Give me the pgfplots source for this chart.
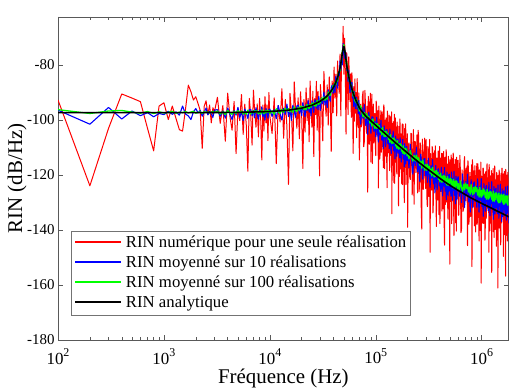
\documentclass[border=0pt]{standalone}
\usepackage{fontspec}
\setmainfont{Liberation Serif}
\usepackage{pgfplots}
\pgfplotsset{compat=1.18}
\usepackage{pgfplotstable}

\definecolor{vert}{RGB}{0,255,0}

% single realisation: f (Hz), RIN (dB/Hz)
\pgfplotstableread{
f r
100 -92.7
200 -123.9
300 -103.0
400 -90.5
500 -92.0
600 -93.3
700 -103.0
800 -111.2
900 -94.9
1000 -93.7
1100 -99.8
1200 -94.9
1300 -99.4
1400 -103.5
1500 -104.0
1600 -96.0
1700 -87.3
1800 -89.7
1900 -92.7
2000 -91.5
2100 -94.0
2200 -96.5
2300 -110.3
2400 -95.0
2500 -93.0
2600 -98.0
2700 -94.5
2800 -101.0
2900 -95.5
3000 -97.0
3200 -91.7
3400 -101.2
3600 -94.7
3800 -107.7
4000 -90.2
4200 -98.7
4400 -103.7
4600 -93.2
4800 -112.2
5000 -95.7
5200 -100.2
5400 -90.7
5600 -105.2
5800 -94.2
6000 -102.1
6200 -118.6
6400 -92.1
6600 -98.1
6800 -109.1
7000 -89.1
7200 -97.1
7400 -102.6
7600 -94.1
7800 -106.1
8000 -92.1
8200 -99.5
8400 -114.5
8600 -94.5
8800 -104.0
9000 -91.5
9200 -101.0
9400 -94.5
9600 -107.5
9800 -90.0
10000 -98.5
10500 -104.9
11000 -91.9
11500 -115.8
12000 -94.7
12500 -100.7
13000 -88.6
13500 -106.6
14000 -92.5
14500 -102.5
15000 -123.4
15500 -90.3
16000 -97.3
16500 -111.2
17000 -86.1
17500 -96.1
18000 -103.0
18500 -91.9
19000 -106.8
19500 -89.7
20000 -98.7
20500 -117.6
21000 -92.5
21500 -104.4
22000 -88.3
22500 -100.2
23000 -92.1
23500 -107.9
24000 -85.8
24500 -96.7
25000 -102.6
25500 -89.5
26000 -113.3
26500 -92.2
27000 -98.0
27500 -85.9
28000 -103.7
28500 -89.6
29000 -99.4
29500 -120.3
30000 -87.1
30800 -93.9
31600 -107.6
32400 -82.3
33200 -92.0
34000 -98.6
34800 -87.2
35600 -101.8
36400 -84.3
37200 -92.9
38000 -111.4
38800 -85.8
39600 -97.3
40400 -80.7
41200 -92.0
42000 -83.3
42800 -98.5
43600 -78.5
44400 -85.6
45200 -90.3
46000 -76.0
46800 -98.5
47600 -75.5
48400 -79.6
49200 -65.9
50000 -83.3
50800 -70.2
51600 -82.2
52400 -105.1
53200 -75.5
54000 -82.6
54800 -98.0
55600 -77.0
56400 -85.3
57200 -93.3
58000 -83.2
58800 -99.0
59600 -82.8
60400 -92.5
61200 -112.1
62000 -87.8
62800 -100.4
63600 -85.0
64400 -97.5
65200 -90.0
66000 -106.4
66800 -84.9
67600 -96.3
68400 -102.7
69200 -90.1
70000 -114.5
72000 -94.2
73000 -102.5
74000 -100.8
75000 -91.1
76000 -89.4
77000 -109.7
78000 -107.9
79000 -89.2
80000 -94.4
81000 -102.6
82000 -104.8
83000 -95.0
84000 -126.2
85000 -91.4
86000 -93.6
87000 -108.8
88000 -101.0
89000 -90.2
90000 -115.3
91000 -95.5
92000 -90.6
93000 -115.8
94000 -101.0
95000 -94.2
96000 -108.3
97000 -98.5
98000 -97.6
99000 -108.8
100000 -112.9
101000 -93.1
102000 -96.2
103000 -105.4
104000 -105.5
105000 -96.6
106000 -124.7
107000 -94.9
108000 -100.0
109000 -114.2
110000 -112.3
111000 -99.5
112000 -96.6
113000 -111.7
114000 -108.8
115000 -97.0
116000 -101.1
117000 -109.2
118000 -117.3
119000 -94.5
120000 -95.6
121000 -117.7
122000 -106.8
123000 -100.0
124000 -113.1
125000 -99.2
126000 -100.3
127000 -115.5
128000 -124.6
129000 -96.7
130000 -103.8
131000 -111.9
132000 -110.0
133000 -102.1
134000 -98.2
135000 -118.4
136000 -116.5
137000 -98.6
138000 -102.7
139000 -110.8
140000 -112.9
141000 -97.0
142000 -134.1
143000 -102.2
144000 -101.3
145000 -116.4
146000 -108.5
147000 -100.6
148000 -122.7
149000 -104.8
150000 -97.9
151000 -123.0
152000 -108.1
153000 -99.2
154000 -115.3
155000 -102.4
156000 -104.4
157000 -115.5
158000 -119.6
159000 -100.7
160000 -102.8
161000 -111.9
162000 -112.0
163000 -105.1
164000 -131.2
165000 -102.3
166000 -106.4
167000 -120.5
168000 -118.5
169000 -99.6
170000 -102.7
171000 -117.8
172000 -114.9
173000 -105.0
174000 -107.0
175000 -115.1
176000 -123.2
177000 -104.3
178000 -101.4
179000 -123.5
180000 -112.5
181000 -101.6
182000 -118.7
183000 -106.8
184000 -105.8
185000 -120.9
186000 -130.0
187000 -103.1
188000 -109.1
189000 -117.2
190000 -115.3
191000 -101.4
192000 -103.4
193000 -123.5
194000 -121.6
195000 -106.7
196000 -107.7
197000 -115.8
198000 -117.9
199000 -105.0
200000 -139.0
203000 -109.2
206000 -108.3
209000 -120.5
212000 -121.6
215000 -104.8
218000 -105.0
221000 -127.2
224000 -116.3
227000 -103.5
230000 -130.6
233000 -107.8
236000 -107.9
239000 -119.1
242000 -115.2
245000 -105.4
248000 -126.5
251000 -103.7
254000 -105.8
257000 -126.0
260000 -121.1
263000 -108.3
266000 -113.4
269000 -132.6
272000 -139.7
275000 -106.9
278000 -111.0
281000 -125.2
284000 -120.3
287000 -111.5
290000 -106.6
293000 -120.8
296000 -124.9
299000 -107.1
302000 -116.3
305000 -130.4
308000 -131.5
311000 -109.6
314000 -110.7
317000 -127.8
320000 -119.9
323000 -107.0
326000 -148.1
329000 -112.2
332000 -115.3
335000 -124.4
338000 -125.5
341000 -109.6
344000 -110.7
347000 -133.8
350000 -129.9
353000 -112.0
356000 -119.1
359000 -111.2
362000 -124.3
365000 -109.4
368000 -113.5
371000 -131.6
374000 -138.7
377000 -113.8
380000 -115.9
383000 -128.0
386000 -129.1
389000 -111.2
392000 -112.3
395000 -134.4
398000 -123.5
401000 -109.6
404000 -137.7
407000 -113.8
410000 -114.8
413000 -125.9
416000 -122.0
419000 -112.1
422000 -133.1
425000 -116.2
428000 -112.2
431000 -132.3
434000 -127.3
437000 -111.4
440000 -119.4
443000 -138.5
446000 -145.5
449000 -113.6
452000 -116.6
455000 -130.7
458000 -125.7
461000 -110.8
464000 -111.8
467000 -125.9
470000 -129.9
473000 -116.0
476000 -121.0
479000 -135.1
482000 -136.1
485000 -113.2
488000 -115.2
491000 -132.3
494000 -124.3
497000 -115.4
500000 -152.4
503000 -114.5
506000 -119.5
509000 -128.6
512000 -129.6
515000 -112.7
518000 -114.7
521000 -137.7
524000 -133.7
527000 -116.8
530000 -122.8
533000 -113.9
536000 -127.9
539000 -112.0
542000 -117.0
545000 -135.0
548000 -142.0
551000 -116.1
554000 -119.1
557000 -131.2
560000 -132.2
563000 -114.3
566000 -115.3
569000 -137.4
572000 -126.4
575000 -118.4
578000 -140.4
581000 -113.5
584000 -117.5
587000 -128.6
590000 -124.6
595000 -115.6
600000 -114.6
607500 -134.7
615000 -126.7
622500 -112.8
630000 -118.8
637500 -140.9
645000 -140.0
652500 -118.1
660000 -122.1
667500 -133.2
675000 -132.2
682500 -115.3
690000 -113.3
697500 -128.4
705000 -129.4
712500 -117.5
720000 -125.6
727500 -116.7
735000 -145.7
742500 -114.8
750000 -117.8
757500 -137.9
765000 -134.9
772500 -119.0
780000 -122.0
787500 -135.1
795000 -131.2
802500 -116.3
810000 -153.3
817500 -114.4
825000 -117.4
832500 -131.4
840000 -127.4
847500 -118.5
855000 -138.5
862500 -116.6
870000 -121.6
877500 -140.7
885000 -129.7
892500 -120.8
900000 -115.8
907500 -137.9
915000 -134.9
922500 -115.9
930000 -124.9
937500 -134.0
945000 -144.0
952500 -118.1
960000 -120.1
967500 -140.2
975000 -133.2
982500 -115.3
990000 -159.3
997500 -120.4
1005000 -121.4
1012500 -131.5
1020000 -137.5
1027500 -117.5
1035000 -117.5
1042500 -137.6
1050000 -129.6
1057500 -119.6
1065000 -121.6
1072500 -143.7
1080000 -142.7
1087500 -118.8
1095000 -124.8
1102500 -135.8
1110000 -134.8
1117500 -116.9
1125000 -115.9
1132500 -131.0
1140000 -132.0
1147500 -121.0
1155000 -128.0
1162500 -118.1
1170000 -148.1
1177500 -116.2
1185000 -120.2
1192500 -140.3
1200000 -137.3
1207500 -120.3
1215000 -124.3
1222500 -137.4
1230000 -133.4
1237500 -118.4
1245000 -155.4
1252500 -122.5
1260000 -119.5
1267500 -133.5
1275000 -129.5
1282500 -117.6
1290000 -140.6
1297500 -119.6
1305000 -123.6
1312500 -142.7
1320000 -131.7
1327500 -116.7
1335000 -117.7
1342500 -139.8
1350000 -136.8
1357500 -121.8
1365000 -126.8
1372500 -135.9
1380000 -145.9
1387500 -119.0
1395000 -122.0
1402500 -142.0
1410000 -135.0
1417500 -121.1
1425000 -161.1
1432500 -120.1
1440000 -123.1
1447500 -133.2
1455000 -139.2
1462500 -118.2
1470000 -119.2
1477500 -139.3
1485000 -131.3
1492500 -122.3
1500000 -123.3
1507500 -145.4
1515000 -144.4
1522500 -119.4
1530000 -126.4
1537500 -137.4
1545000 -136.4
1552500 -117.5
1560000 -117.5
1567500 -132.5
1575000 -133.5
1582500 -121.6
1590000 -129.6
1597500 -119.6
1605000 -149.6
1612500 -123.7
1620000 -121.7
1627500 -141.7
1635000 -138.7
1642500 -118.7
1650000 -125.7
1657500 -138.8
1665000 -134.8
1672500 -120.8
1680000 -156.8
1687500 -117.9
1695000 -120.9
1702500 -134.9
1710000 -130.9
1717500 -122.9
1725000 -141.9
1732500 -120.0
1740000 -125.0
1747500 -144.0
1755000 -133.0
1762500 -122.0
1770000 -119.0
1777500 -141.1
1785000 -138.1
1792500 -121.1
1800000 -128.1
}\rinone

% averaged RIN: f (Hz), mean of 10 (b), mean of 100 (g)
\pgfplotstableread{
f b g
100 -96.4 -96.2
200 -101.5 -97.6
300 -95.4 -96.7
400 -99.6 -96.5
500 -96.7 -97.1
600 -98.4 -97.5
700 -97.3 -96.9
800 -98.8 -97.6
900 -97.6 -97.0
1000 -98.0 -97.4
1100 -96.8 -97.2
1200 -97.9 -96.8
1300 -97.0 -97.5
1400 -98.2 -97.1
1500 -94.9 -97.3
1600 -97.8 -96.9
1700 -98.5 -97.4
1800 -99.8 -97.1
1900 -97.0 -96.8
2000 -95.8 -97.5
2100 -97.4 -97.2
2200 -96.5 -97.0
2300 -98.6 -97.6
2400 -97.2 -96.9
2500 -95.6 -97.3
2600 -98.1 -97.0
2700 -96.9 -97.5
2800 -97.8 -97.1
2900 -99.0 -96.8
3000 -96.4 -97.3
3200 -96.2 -96.7
3400 -98.6 -97.8
3600 -96.7 -97.0
3800 -99.3 -98.0
4000 -95.6 -96.5
4200 -97.9 -97.4
4400 -99.8 -97.9
4600 -96.5 -96.8
4800 -98.2 -97.6
5000 -95.4 -96.6
5200 -99.0 -97.3
5400 -97.0 -96.7
5600 -100.2 -97.8
5800 -96.0 -97.0
6000 -97.5 -97.9
6200 -99.4 -96.4
6400 -96.2 -97.3
6600 -96.1 -97.8
6800 -98.5 -96.7
7000 -96.6 -97.5
7200 -99.2 -96.5
7400 -95.5 -97.2
7600 -97.8 -96.6
7800 -99.7 -97.7
8000 -96.4 -96.9
8200 -98.0 -97.8
8400 -95.2 -96.3
8600 -98.8 -97.2
8800 -96.8 -97.7
9000 -100.0 -96.6
9200 -95.8 -97.4
9400 -97.4 -96.4
9600 -99.3 -97.1
9800 -96.1 -96.5
10000 -96.0 -97.6
10500 -98.7 -96.6
11000 -96.2 -97.9
11500 -99.5 -95.9
12000 -94.7 -97.0
12500 -97.6 -97.6
13000 -100.0 -96.1
13500 -95.7 -97.2
14000 -97.9 -95.7
14500 -94.2 -96.7
15000 -98.7 -95.8
15500 -96.1 -97.0
16000 -100.1 -96.0
16500 -94.6 -97.2
17000 -96.6 -95.2
17500 -99.0 -96.4
18000 -94.9 -96.9
18500 -94.5 -95.4
19000 -97.6 -96.4
19500 -95.0 -94.9
20000 -98.4 -95.9
20500 -93.6 -95.0
21000 -96.4 -96.2
21500 -98.8 -95.1
22000 -94.4 -96.3
22500 -96.6 -94.3
23000 -92.8 -95.4
23500 -97.2 -95.8
24000 -94.6 -94.3
24500 -98.5 -95.3
25000 -93.0 -93.8
25500 -95.0 -94.7
26000 -97.2 -93.7
26500 -93.1 -94.9
27000 -92.6 -93.7
27500 -95.7 -94.9
28000 -93.0 -92.8
28500 -96.3 -93.9
29000 -91.4 -94.3
29500 -94.2 -92.8
30000 -96.5 -93.7
30800 -91.9 -92.0
31600 -94.1 -92.8
32400 -89.8 -91.6
33200 -94.5 -92.8
34000 -91.3 -91.3
34800 -95.5 -92.4
35600 -89.0 -89.8
36400 -90.8 -90.7
37200 -93.2 -91.0
38000 -88.1 -88.9
38800 -87.3 -89.5
39600 -90.3 -87.4
40400 -86.9 -87.9
41200 -90.0 -86.3
42000 -84.0 -87.1
42800 -86.5 -85.2
43600 -88.4 -85.8
44400 -82.6 -82.6
45200 -83.8 -82.7
46000 -78.5 -82.1
46800 -82.0 -79.0
47600 -77.2 -78.2
48400 -79.9 -74.7
49200 -72.1 -74.1
50000 -73.8 -72.6
50800 -77.5 -75.0
51600 -74.9 -75.9
52400 -76.6 -79.3
53200 -82.0 -79.0
54000 -80.8 -82.0
54800 -86.0 -84.1
55600 -81.9 -83.7
56400 -86.3 -86.0
57200 -90.1 -85.4
58000 -86.2 -87.4
58800 -89.5 -87.3
59600 -86.3 -89.6
60400 -92.0 -89.2
61200 -89.8 -91.3
62000 -95.1 -89.8
62800 -89.6 -91.8
63600 -92.5 -93.1
64400 -95.8 -92.0
65200 -91.7 -93.7
66000 -91.9 -92.5
66800 -95.9 -94.1
67600 -93.5 -93.6
68400 -97.7 -95.5
69200 -92.8 -94.8
70000 -96.5 -96.7
72000 -101.5 -94.8
74000 -95.4 -97.3
76000 -99.5 -98.8
78000 -94.4 -97.2
80000 -101.9 -99.3
82000 -98.4 -97.6
84000 -105.2 -99.4
86000 -97.1 -98.6
88000 -100.7 -101.1
90000 -104.9 -99.9
92000 -98.8 -102.2
94000 -98.9 -99.6
96000 -104.1 -101.8
98000 -100.5 -103.0
100000 -106.1 -101.2
102000 -99.0 -103.1
104000 -103.9 -101.3
106000 -108.0 -102.9
108000 -101.6 -102.0
110000 -105.4 -104.4
112000 -100.1 -103.2
114000 -107.3 -105.4
116000 -103.7 -102.7
118000 -110.3 -104.8
120000 -102.1 -106.0
122000 -105.5 -104.1
124000 -109.7 -106.0
126000 -103.5 -104.1
128000 -103.5 -105.8
130000 -108.6 -104.8
132000 -104.9 -107.1
134000 -110.4 -105.8
136000 -103.3 -108.1
138000 -108.1 -105.3
140000 -112.2 -107.4
142000 -105.7 -108.5
144000 -109.4 -106.6
146000 -104.0 -108.4
148000 -111.2 -106.5
150000 -107.5 -108.1
152000 -114.1 -107.1
154000 -105.8 -109.4
156000 -109.1 -108.0
158000 -113.2 -110.2
160000 -107.0 -107.4
162000 -106.9 -109.5
164000 -112.0 -110.6
166000 -108.3 -108.7
168000 -113.7 -110.4
170000 -106.5 -108.5
172000 -111.3 -110.1
174000 -115.3 -109.0
176000 -108.8 -111.3
178000 -112.5 -110.0
180000 -107.0 -112.1
182000 -114.2 -109.3
184000 -110.4 -111.3
186000 -117.0 -112.4
188000 -108.6 -110.4
190000 -112.0 -112.2
192000 -116.0 -110.2
194000 -109.8 -111.8
196000 -109.6 -110.7
198000 -114.7 -113.0
200000 -110.9 -111.6
206000 -117.4 -114.1
212000 -108.8 -111.1
218000 -114.7 -113.5
224000 -119.7 -114.9
230000 -111.9 -112.8
236000 -116.5 -114.9
242000 -109.9 -112.8
248000 -118.8 -114.8
254000 -114.4 -113.7
260000 -122.3 -116.4
266000 -112.4 -114.9
272000 -116.6 -117.5
278000 -121.5 -114.5
284000 -114.2 -116.8
290000 -114.0 -118.2
296000 -120.3 -116.1
302000 -116.0 -118.3
308000 -122.6 -116.1
314000 -113.9 -118.0
320000 -119.6 -116.8
326000 -124.5 -119.4
332000 -116.6 -117.8
338000 -121.1 -120.3
344000 -114.4 -117.2
350000 -123.2 -119.4
356000 -118.7 -120.7
362000 -126.5 -118.5
368000 -116.5 -120.5
374000 -120.6 -118.3
380000 -125.4 -120.2
386000 -118.0 -119.0
392000 -117.7 -121.6
398000 -123.9 -120.0
404000 -119.4 -122.5
410000 -125.9 -119.3
416000 -117.2 -121.5
422000 -122.8 -122.7
428000 -127.6 -120.4
434000 -119.6 -122.3
440000 -124.0 -120.0
446000 -117.2 -121.8
452000 -125.9 -120.5
458000 -121.3 -123.0
464000 -129.0 -121.3
470000 -118.9 -123.7
476000 -122.9 -120.5
482000 -127.6 -122.6
488000 -120.1 -123.8
494000 -119.7 -121.5
500000 -125.8 -123.4
506000 -121.2 -121.1
512000 -127.7 -122.9
518000 -118.9 -121.6
524000 -124.4 -124.0
530000 -129.2 -122.3
536000 -121.2 -124.7
542000 -125.6 -121.5
548000 -118.7 -123.5
554000 -127.4 -124.7
560000 -122.8 -122.4
566000 -130.5 -124.3
572000 -120.4 -122.0
578000 -124.3 -123.7
584000 -129.0 -122.4
590000 -121.5 -124.9
600000 -120.6 -123.1
615000 -127.7 -125.7
630000 -122.3 -122.1
645000 -130.0 -124.6
660000 -119.6 -125.9
675000 -126.2 -123.3
690000 -131.8 -125.4
705000 -122.4 -122.9
720000 -127.6 -124.9
735000 -119.7 -123.5
750000 -129.8 -126.2
765000 -124.4 -124.4
780000 -133.5 -127.0
795000 -121.7 -123.5
810000 -126.3 -125.9
825000 -131.9 -127.2
840000 -122.9 -124.5
855000 -122.5 -126.6
870000 -129.6 -124.1
885000 -124.2 -126.0
900000 -131.8 -124.6
915000 -121.4 -127.3
930000 -127.9 -125.4
945000 -133.5 -128.0
960000 -124.1 -124.4
975000 -129.2 -126.8
990000 -121.3 -128.1
1005000 -131.4 -125.5
1020000 -126.0 -127.6
1035000 -135.0 -125.0
1050000 -123.1 -126.9
1065000 -127.6 -125.4
1080000 -133.2 -128.1
1095000 -124.3 -126.3
1110000 -123.8 -128.8
1125000 -130.9 -125.2
1140000 -125.5 -127.6
1155000 -133.0 -128.8
1170000 -122.6 -126.2
1185000 -129.2 -128.3
1200000 -134.8 -125.8
1215000 -125.3 -127.6
1230000 -130.4 -126.2
1245000 -122.4 -128.8
1260000 -132.5 -127.0
1275000 -127.0 -129.5
1290000 -136.1 -125.9
1305000 -124.1 -128.2
1320000 -128.7 -129.5
1335000 -134.2 -126.8
1350000 -125.3 -128.9
1365000 -124.8 -126.3
1380000 -131.9 -128.2
1395000 -126.5 -126.8
1410000 -134.0 -129.4
1425000 -123.6 -127.6
1440000 -130.1 -130.1
1455000 -135.7 -126.5
1470000 -126.2 -128.8
1485000 -131.3 -130.1
1500000 -123.3 -127.4
1515000 -133.4 -129.5
1530000 -127.9 -126.9
1545000 -136.9 -128.7
1560000 -125.0 -127.3
1575000 -129.5 -129.9
1590000 -135.1 -128.1
1605000 -126.1 -130.6
1620000 -125.7 -127.0
1635000 -132.7 -129.3
1650000 -127.2 -130.5
1665000 -134.8 -127.9
1680000 -124.3 -129.9
1695000 -130.9 -127.4
1710000 -136.4 -129.2
1725000 -126.9 -127.7
1740000 -132.0 -130.4
1755000 -124.0 -128.5
1770000 -134.0 -131.0
1785000 -128.6 -127.4
1800000 -137.6 -129.7
}\rinmoy

% analytical RIN
\pgfplotstableread{
f a
100 -97.3
1000 -97.3
3000 -97.25
5000 -97.2
10000 -96.9
15000 -96.4
20000 -95.65
25000 -94.6
30000 -93.1
32500 -92.2
35000 -91.1
37500 -89.7
40000 -88.0
42000 -86.3
44000 -84.0
45200 -82.3
46000 -81.0
46800 -79.5
47600 -77.5
48400 -75.6
49200 -73.9
49600 -73.4
50000 -73.3
50400 -73.5
50800 -74.2
51600 -76.2
52400 -78.1
53200 -80.0
54000 -81.6
55600 -84.2
58000 -87.2
60400 -89.5
62800 -91.4
65200 -92.95
70000 -95.5
72000 -96.2
76000 -97.4
80000 -98.4
90000 -100.3
100000 -101.9
120000 -104.6
150000 -107.9
170000 -109.7
200000 -112.0
250000 -115.1
300000 -117.5
350000 -119.4
400000 -121.1
450000 -122.5
500000 -123.7
600000 -125.6
700000 -127.1
800000 -128.4
1000000 -130.3
1200000 -131.8
1400000 -133.1
1600000 -134.2
1800000 -135.2
}\rinana

\newcommand\dec[1]{10\raisebox{0.45em}{\fontsize{12}{12}\selectfont #1}}
% legend sample: a coloured 46bp stroke set in the entry text
\newcommand\legline[1]{\textcolor{#1}{\rule[0.3em]{46bp}{1.3pt}}\hspace{4.7bp}}

\begin{document}
\begin{tikzpicture}
\begin{axis}[
  xmode=log,
  scale only axis,
  width=450.7bp, height=323bp,
  xmin=100, xmax=1.8e6,
  ymin=-180, ymax=-62.5,
  xtick={100,1000,10000,100000,1000000},
  xticklabels={\dec{2},\dec{3},\dec{4},\dec{5},\dec{6}},
  ytick={-180,-160,-140,-120,-100,-80},
  yticklabels={-180,-160,-140,-120,-100,-80},
  yticklabel style={font=\fontsize{15}{18}\selectfont, black},
  xticklabel style={font=\fontsize{17}{20}\selectfont, black, yshift=-5bp},
  major tick length=5bp, minor tick length=3bp,
  axis line style={black!65, line width=0.6pt},
  every tick/.style={black!65, line width=0.5pt},
  xlabel={Fréquence (Hz)},
  ylabel={RIN (dB/Hz)},
  every axis x label/.style={at={(axis description cs:0.5,-0.12)}, anchor=center,
    font=\fontsize{21}{24}\selectfont},
  every axis y label/.style={at={(axis description cs:-0.091,0.5)}, anchor=center,
    rotate=90, font=\fontsize{21}{24}\selectfont},
  legend style={at={(axis description cs:0.0288,0.0743)}, anchor=south west,
    draw=black!55, line width=0.6pt, fill=white,
    font=\fontsize{16.8}{19}\selectfont,
    inner xsep=3.5bp, inner ysep=2bp, row sep=0bp,
    nodes={inner xsep=0.5bp, inner ysep=2bp, text height=12bp, text depth=4bp}},
  legend cell align=left,
  legend image code/.code={},
]
\addplot[draw=red, line width=1.0pt, line join=round] table[x=f, y=r]{\rinone};
\addlegendentry{\legline{red}RIN numérique pour une seule réalisation\hspace{2.7bp}}
\addplot[draw=blue, line width=1.1pt, line join=round] table[x=f, y=b]{\rinmoy};
\addlegendentry{\legline{blue}RIN moyenné sur 10 réalisations}
\addplot[draw=vert, line width=1.3pt, line join=round] table[x=f, y=g]{\rinmoy};
\addlegendentry{\legline{vert}RIN moyenné sur 100 réalisations}
\addplot[draw=black, line width=1.6pt, line join=round] table[x=f, y=a]{\rinana};
\addlegendentry{\legline{black}RIN analytique}
\end{axis}
\path ([shift={(-58bp,-49bp)}]current axis.south west) rectangle ([shift={(4.3bp,17bp)}]current axis.north east);
\end{tikzpicture}
\end{document}
